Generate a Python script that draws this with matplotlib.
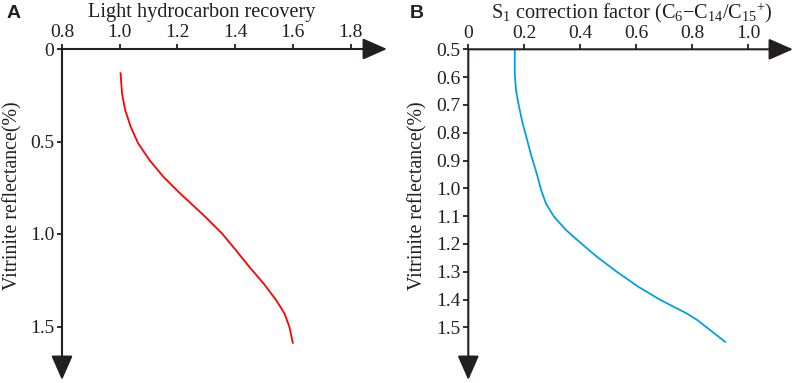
import matplotlib
matplotlib.use('Agg')
import matplotlib.pyplot as plt

plt.rcParams['font.family'] = ['Liberation Serif', 'DejaVu Serif']
plt.rcParams['mathtext.fontset'] = 'custom'
plt.rcParams['mathtext.rm'] = 'Liberation Serif'
plt.rcParams['mathtext.it'] = 'Liberation Serif:italic'
plt.rcParams['mathtext.bf'] = 'Liberation Serif:bold'

# ---- data ----
ro_a = [0.131, 0.240, 0.330, 0.420, 0.510, 0.600, 0.690, 0.780, 0.861, 0.906, 0.996,
        1.086, 1.177, 1.266, 1.357, 1.429, 1.501, 1.588]
recovery = [1.003, 1.008, 1.019, 1.038, 1.064, 1.103, 1.151, 1.209, 1.265, 1.296, 1.354,
            1.402, 1.449, 1.498, 1.542, 1.571, 1.588, 1.600]

ro_b = [0.500, 0.586, 0.646, 0.706, 0.766, 0.826, 0.886, 0.946, 1.006, 1.054, 1.102,
        1.150, 1.200, 1.246, 1.300, 1.354, 1.401, 1.450, 1.474, 1.500, 1.552]
s1_factor = [0.166, 0.166, 0.170, 0.181, 0.194, 0.210, 0.226, 0.244, 0.260, 0.277, 0.306,
             0.349, 0.405, 0.459, 0.530, 0.607, 0.685, 0.780, 0.818, 0.851, 0.917]

xticks_a = [0.8, 1.0, 1.2, 1.4, 1.6, 1.8]
yticks_a = [0, 0.5, 1.0, 1.5]
yticklabels_a = ['0', '0.5', '1.0', '1.5']
xticks_b = [0, 0.2, 0.4, 0.6, 0.8, 1.0]
xticklabels_b = ['0', '0.2', '0.4', '0.6', '0.8', '1.0']
yticks_b = [0.5, 0.6, 0.7, 0.8, 0.9, 1.0, 1.1, 1.2, 1.3, 1.4, 1.5]

W, H = 796, 383
fig = plt.figure(figsize=(W / 100, H / 100), dpi=100)
AX = '#231f20'
FS = 14


def px_axes(l, r, t, b):
    return fig.add_axes([l / W, 1 - b / H, (r - l) / W, (b - t) / H])


def style(ax):
    for s in ax.spines.values():
        s.set_visible(False)
    ax.xaxis.set_ticks_position('top')
    ax.yaxis.set_ticks_position('left')
    ax.tick_params(axis='both', direction='out', length=3.6, width=1.3, color=AX,
                   labelsize=FS, labelcolor=AX, pad=2)
    kw = dict(arrowstyle='-|>,head_length=0.75,head_width=0.33', mutation_scale=20,
              lw=1.5, color=AX, shrinkA=0, shrinkB=0)
    ax.annotate('', xy=(1, 1), xytext=(0, 1), xycoords='axes fraction',
                arrowprops=kw, annotation_clip=False)
    ax.annotate('', xy=(0, 0), xytext=(0, 1), xycoords='axes fraction',
                arrowprops=kw, annotation_clip=False)
    ax.patch.set_alpha(0)


# Panel A
axA = px_axes(62, 387, 49, 380)
axA.set_xlim(0.8, 0.8 + 325 / 288.5)
axA.set_ylim((380 - 49) / 185, 0)
axA.plot(recovery, ro_a, color='#ff0000', lw=1.3, solid_joinstyle='round')
axA.set_xticks(xticks_a)
axA.set_xticklabels([f'{v:.1f}' for v in xticks_a])
axA.set_yticks(yticks_a)
axA.set_yticklabels(yticklabels_a)
style(axA)

# Panel B
axB = px_axes(468.3, 793, 49.3, 380)
axB.set_xlim(0, (793 - 468.3) / 280)
axB.set_ylim(0.5 + (380 - 49.3) / 278, 0.5)
axB.plot(s1_factor, ro_b, color='#00a0e9', lw=1.3, solid_joinstyle='round')
axB.set_xticks(xticks_b)
axB.set_xticklabels(xticklabels_b)
axB.set_yticks(yticks_b)
axB.set_yticklabels([f'{v:.1f}' for v in yticks_b])
style(axB)

# Titles and labels
fig.text(202 / W, 1 - 13 / H, 'Light hydrocarbon recovery', ha='center', va='center',
         fontsize=14.6, color=AX)
fig.text(632 / W, 1 - 13 / H,
         r'S$_{1}$ correction factor (C$_{6}$$-$C$_{14}$/C$_{15}$$^{+}$)',
         ha='center', va='center', fontsize=14.6, color=AX)
for x in (13, 418):
    fig.text(x / W, 1 - 196 / H, 'Vitrinite reflectance(%)', rotation=90,
             ha='center', va='center', fontsize=14.3, color=AX)
fig.text(7 / W, 1 - 13 / H, 'A', ha='left', va='center', fontsize=14,
         fontweight='bold', family='Liberation Sans', color=AX)
fig.text(410 / W, 1 - 13 / H, 'B', ha='left', va='center', fontsize=14,
         fontweight='bold', family='Liberation Sans', color=AX)

fig.savefig('out.png', dpi=100)
